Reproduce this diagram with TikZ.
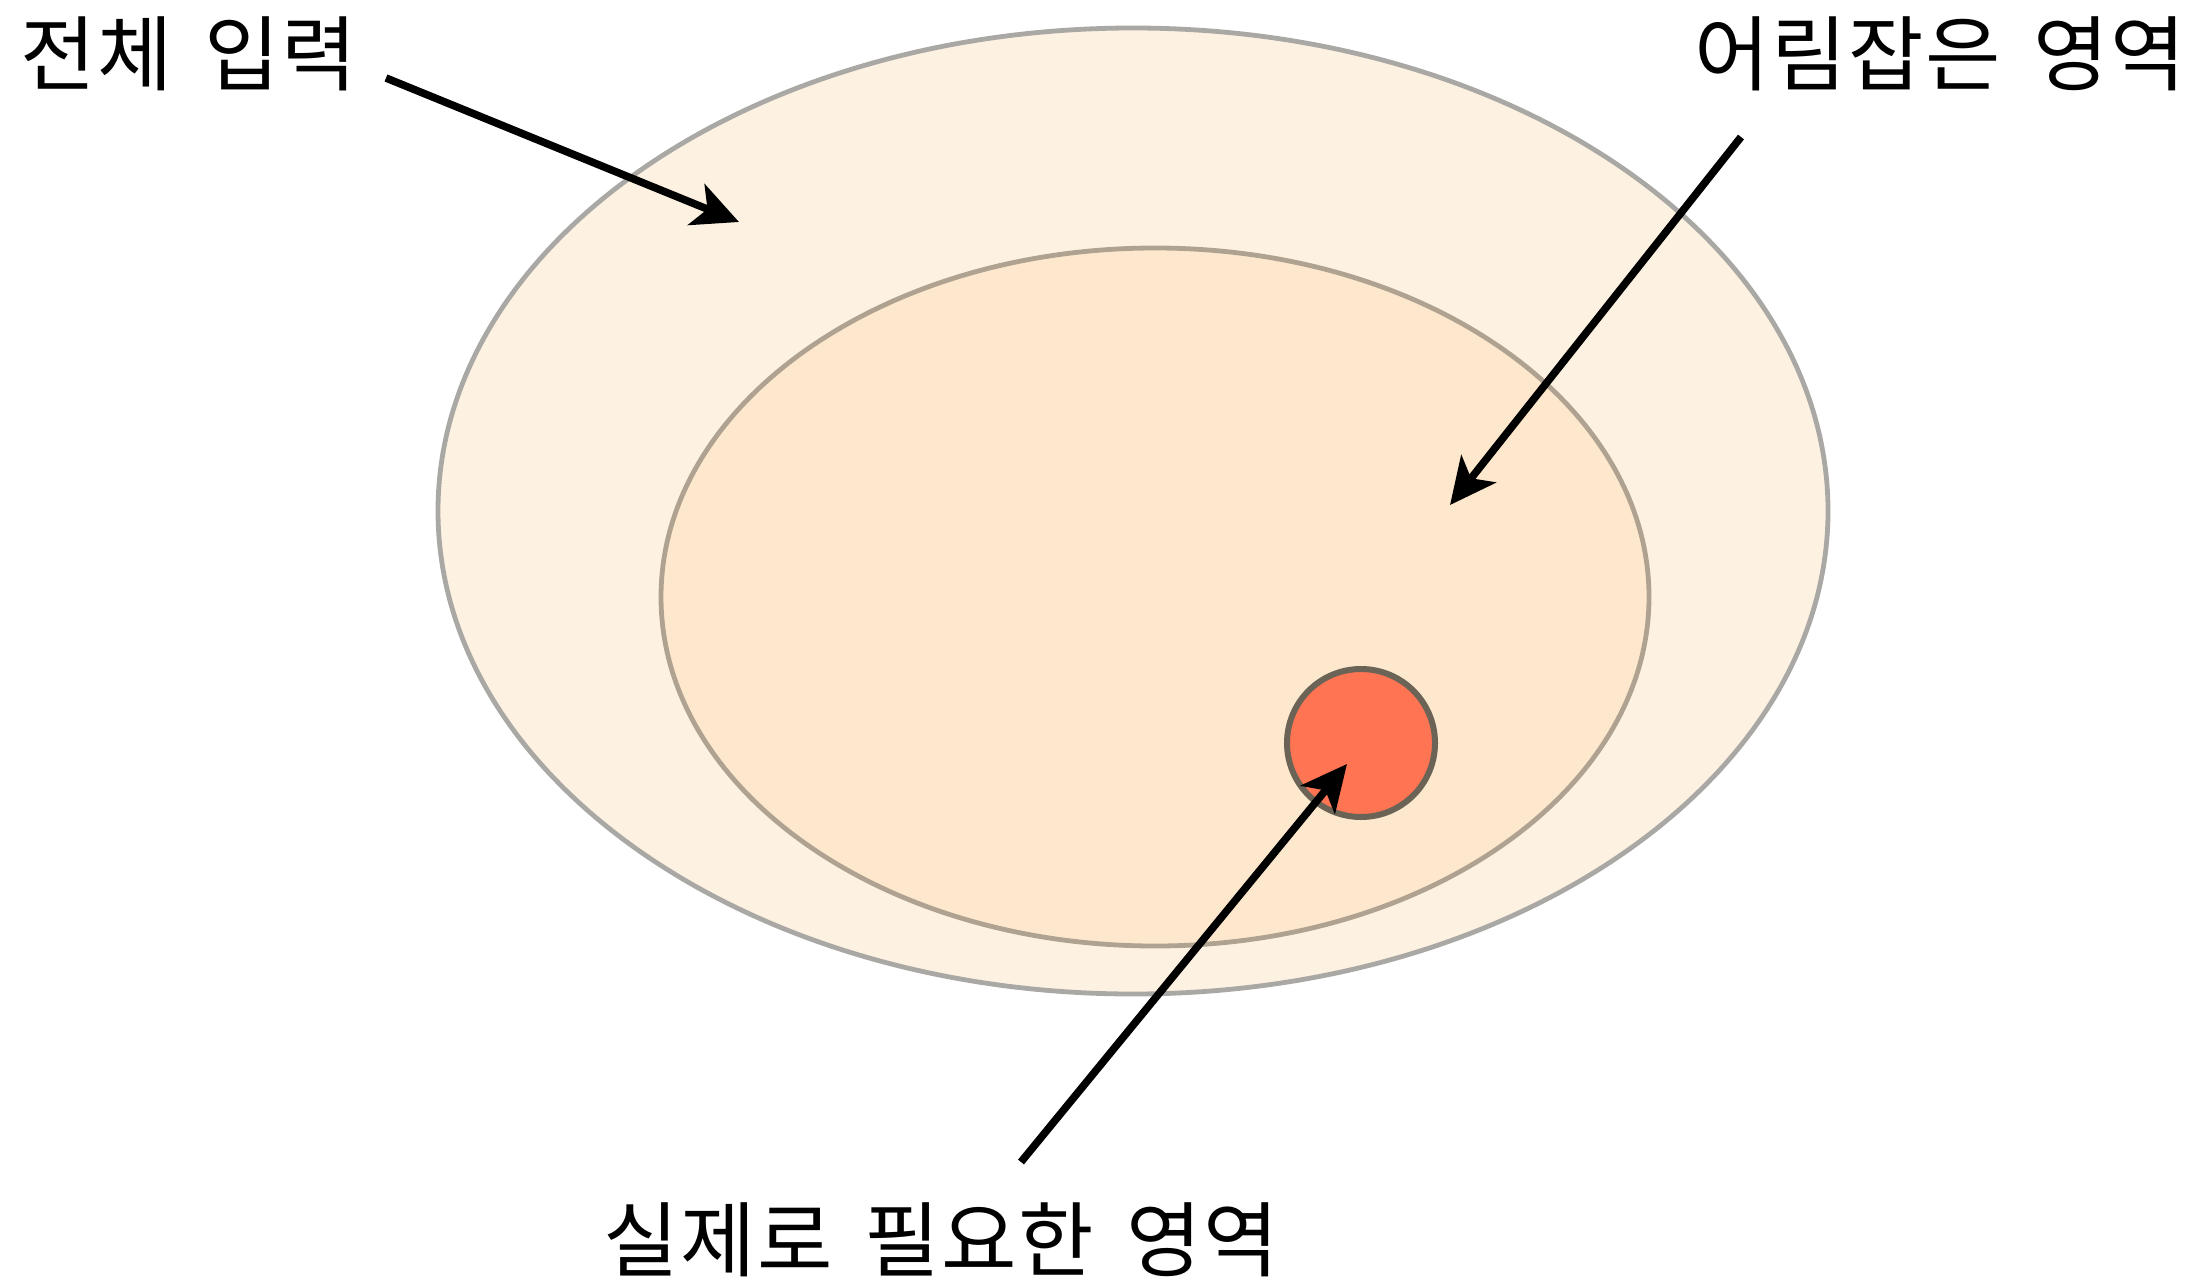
\documentclass[tikz,border=0pt]{standalone}
\usepackage{fontspec}
\newfontfamily\kofont[WordSpace=1.6, LetterSpace=2]{Noto Sans CJK KR}
\usetikzlibrary{arrows.meta}
\usetikzlibrary{shapes.geometric}

\definecolor{outerfill}{HTML}{FDF2E1}
\definecolor{innerfill}{HTML}{FDE8CD}
\definecolor{outerline}{HTML}{AAA8A5}
\definecolor{innerline}{HTML}{B0A290}
\definecolor{spotfill}{HTML}{FF7553}
\definecolor{spotline}{HTML}{6A6356}

\tikzset{
  region/.style={ellipse, inner sep=0pt, line width=2.4pt},
  lbl/.style={font=\kofont\fontsize{41}{48}\selectfont, inner sep=0pt},
  pointer/.style={line width=3.8pt, -{Stealth[length=23pt, width=22pt, inset=6pt]}}
}

\begin{document}
\begin{tikzpicture}[x=0.5pt, y=-0.5pt]
				\useasboundingbox (0,0) rectangle (2210,1284);
				
				% Regions
				\node[region, draw=outerline, fill=outerfill, minimum width=695pt, minimum height=483pt] (whole) at (1133,511) {};
				\node[region, draw=innerline, fill=innerfill, minimum width=494pt, minimum height=349pt] (approx) at (1155,597) {};
				\node[circle, inner sep=0pt, line width=3pt, draw=spotline, fill=spotfill, minimum size=74pt] (need) at (1361,743) {};
				
				% Labels
				\node[lbl, anchor=west] (lbl-whole) at (20,54) {전체 입력};
				\node[lbl, anchor=east] (lbl-approx) at (2186,54) {어림잡은 영역};
				\node[lbl] (lbl-need) at (941,1240) {실제로 필요한 영역};
				
				% Arrow ends
				\coordinate (whole-tail) at (386,78);
				\coordinate (whole-tip) at (739,222);
				\coordinate (approx-tail) at (1741,137);
				\coordinate (approx-tip) at (1450,505);
				\coordinate (need-tail) at (1021,1162);
				\coordinate (need-tip) at (1347,764);
				
				% Arrows
				\draw[pointer] (whole-tail) -- (whole-tip);
				\draw[pointer] (approx-tail) -- (approx-tip);
				\draw[pointer] (need-tail) -- (need-tip);
			\end{tikzpicture}
\end{document}
